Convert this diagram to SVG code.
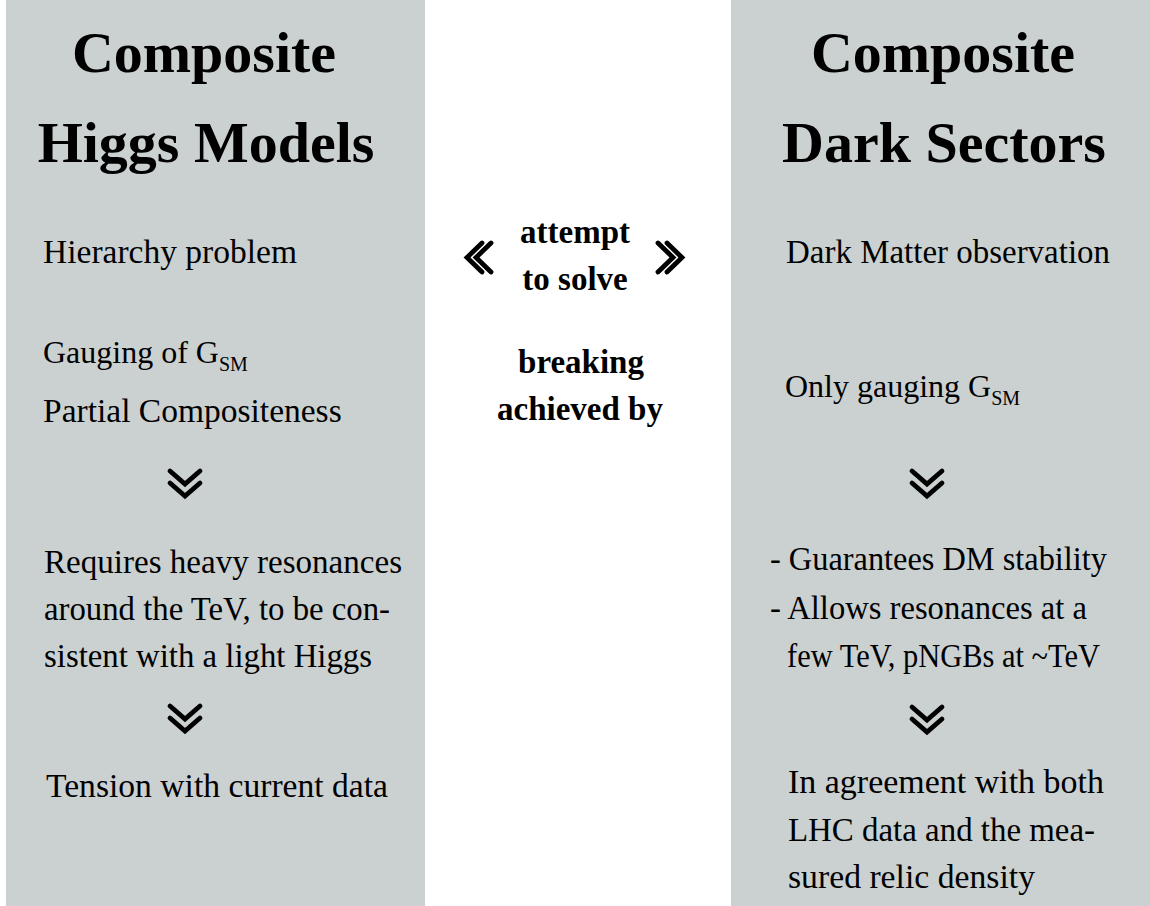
<svg xmlns="http://www.w3.org/2000/svg" width="1150" height="906" viewBox="0 0 1150 906">
<style>
.panel{fill:#cbd1d1}
.title{font-family:"Liberation Serif",serif;font-weight:bold;font-size:58px;fill:#000;text-anchor:middle}
.body{font-family:"Liberation Serif",serif;font-size:33.5px;fill:#000}
.gs{font-size:32px}
.sub{font-size:20px}
.mid{font-family:"Liberation Serif",serif;font-weight:bold;font-size:33px;fill:#000;text-anchor:middle}
.chev{fill:none;stroke:#000;stroke-width:4.8;stroke-linecap:round;stroke-linejoin:miter}
</style>
<rect width="1150" height="906" fill="#fff"/>
<g id="left-panel">
<rect class="panel" x="6" y="0" width="419" height="906"/>
<text class="title" x="204" y="72">Composite</text>
<text class="title" x="206" y="162">Higgs Models</text>
<text class="body" x="43" y="263" textLength="254" lengthAdjust="spacingAndGlyphs">Hierarchy problem</text>
<text class="body gs" x="43" y="363">Gauging of G<tspan class="sub" dy="8">SM</tspan></text>
<text class="body" x="43" y="422">Partial Compositeness</text>
<text class="body" x="44" y="573" textLength="358" lengthAdjust="spacingAndGlyphs">Requires heavy resonances</text>
<text class="body" x="44" y="620" textLength="346" lengthAdjust="spacingAndGlyphs">around the TeV, to be con-</text>
<text class="body" x="44" y="667" textLength="328" lengthAdjust="spacingAndGlyphs">sistent with a light Higgs</text>
<text class="body" x="46" y="797" textLength="342" lengthAdjust="spacingAndGlyphs">Tension with current data</text>
</g>
<g id="right-panel">
<rect class="panel" x="731" y="0" width="419" height="906"/>
<text class="title" x="943" y="72">Composite</text>
<text class="title" x="944" y="162">Dark Sectors</text>
<text class="body" x="786" y="263" textLength="324" lengthAdjust="spacingAndGlyphs">Dark Matter observation</text>
<text class="body gs" x="785" y="397">Only gauging G<tspan class="sub" dy="8">SM</tspan></text>
<text class="body" x="770" y="570" textLength="337" lengthAdjust="spacingAndGlyphs">- Guarantees DM stability</text>
<text class="body" x="770" y="619" textLength="317" lengthAdjust="spacingAndGlyphs">- Allows resonances at a</text>
<text class="body" x="787" y="667" textLength="313" lengthAdjust="spacingAndGlyphs">few TeV, pNGBs at ~TeV</text>
<text class="body" x="788" y="793" textLength="316" lengthAdjust="spacingAndGlyphs">In agreement with both</text>
<text class="body" x="788" y="841" textLength="307" lengthAdjust="spacingAndGlyphs">LHC data and the mea-</text>
<text class="body" x="788" y="888" textLength="247" lengthAdjust="spacingAndGlyphs">sured relic density</text>
</g>
<g id="middle">
<text class="mid" x="575" y="243">attempt</text>
<text class="mid" x="575" y="290">to solve</text>
<text class="mid" x="581" y="373">breaking</text>
<text class="mid" x="580" y="420">achieved by</text>
</g>
<g id="connectors">
<path class="chev" d="M482,243 L467,257.5 L482,272 M491,243 L476,257.5 L491,272"/>
<path class="chev" d="M658,243 L673,257.5 L658,272 M667,243 L682,257.5 L667,272"/>
<path class="chev" d="M170,471 L185,484 L200,471 M170,483 L185,496 L200,483"/>
<path class="chev" d="M170,706 L185,719 L200,706 M170,718 L185,731 L200,718"/>
<path class="chev" d="M912,471 L927,484 L942,471 M912,483 L927,496 L942,483"/>
<path class="chev" d="M912,707 L927,720 L942,707 M912,719 L927,732 L942,719"/>
</g>
</svg>
